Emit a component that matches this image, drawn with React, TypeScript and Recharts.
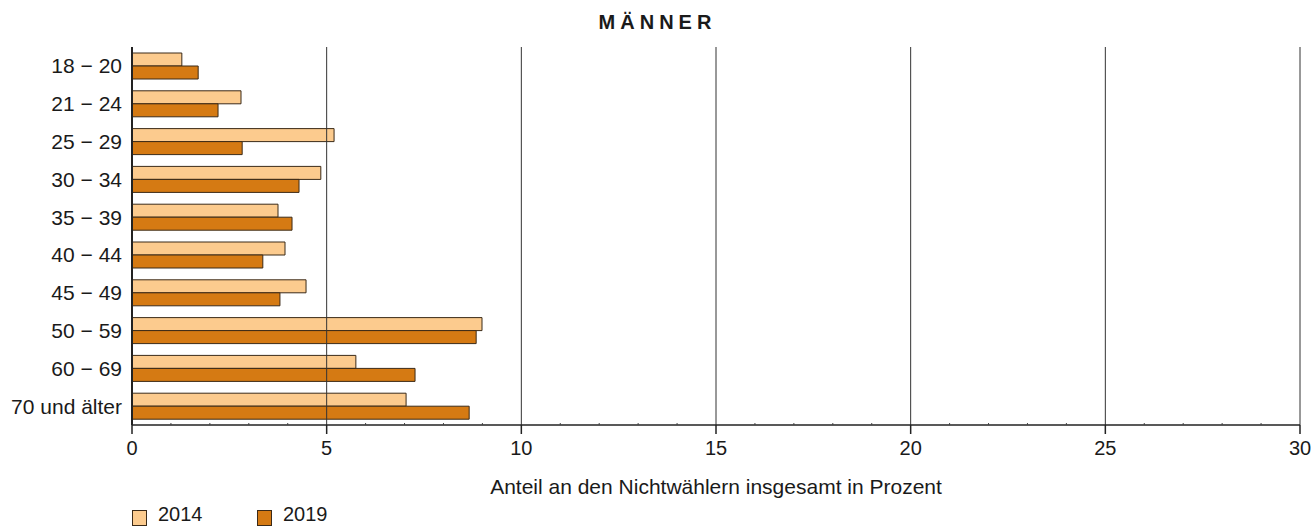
import { BarChart, Bar, XAxis, YAxis, ReferenceLine } from "recharts";

const ageGroups = [
  "18 − 20",
  "21 − 24",
  "25 − 29",
  "30 − 34",
  "35 − 39",
  "40 − 44",
  "45 − 49",
  "50 − 59",
  "60 − 69",
  "70 und älter",
];
const values2014 = [1.28, 2.8, 5.19, 4.85, 3.75, 3.93, 4.47, 8.99, 5.75, 7.04];
const values2019 = [1.7, 2.21, 2.83, 4.29, 4.11, 3.36, 3.8, 8.84, 7.27, 8.66];
const allTicks = Array.from({ length: 31 }, (_, i) => i);
const majorTicks = [5, 10, 15, 20, 25, 30];

const data = ageGroups.map((group, i) => ({
  group,
  y2014: values2014[i],
  y2019: values2019[i],
}));

const FONT = "'Liberation Sans', Arial, sans-serif";
const TEXT = "#1a1a1a";
const LIGHT = "#FCCB8E";
const DARK = "#D57A13";
const EDGE = "#3b2a18";

function XTick(props: any) {
  const { x, y, payload } = props;
  const v = payload.value as number;
  const major = v % 5 === 0;
  return (
    <g>
      {major ? (
        <line x1={x} x2={x} y1={y} y2={y + 9} stroke="#222" strokeWidth={1.5} />
      ) : (
        <line x1={x} x2={x} y1={y - 2} y2={y} stroke="#444" strokeWidth={1} />
      )}
      {major && (
        <text x={x} y={y + 30} textAnchor="middle" fontSize={20} fill={TEXT} fontFamily={FONT}>
          {v}
        </text>
      )}
    </g>
  );
}

function LegendBox({ x, color, label }: { x: number; color: string; label: string }) {
  return (
    <>
      <div
        style={{
          position: "absolute",
          left: x,
          top: 510,
          width: 13,
          height: 14,
          background: color,
          border: `1px solid ${EDGE}`,
        }}
      />
      <div
        style={{
          position: "absolute",
          left: x + 26,
          top: 504,
          fontSize: 20,
          lineHeight: "20px",
          fontFamily: FONT,
          color: TEXT,
        }}
      >
        {label}
      </div>
    </>
  );
}

export default function App() {
  return (
    <div
      style={{
        position: "absolute",
        left: 0,
        top: 0,
        width: 1315,
        height: 527,
        background: "#fff",
        fontFamily: FONT,
      }}
    >
      <div
        style={{
          position: "absolute",
          left: 0,
          top: 12,
          width: 1315,
          textAlign: "center",
          fontSize: 20,
          lineHeight: "21px",
          fontWeight: "bold",
          letterSpacing: 5,
          color: TEXT,
        }}
      >
        MÄNNER
      </div>
      <BarChart
        width={1315}
        height={527}
        data={data}
        layout="vertical"
        margin={{ top: 47, right: 15, bottom: 72, left: 8 }}
        barSize={13}
        barGap={0}
      >
        <XAxis
          type="number"
          domain={[0, 30]}
          ticks={allTicks}
          interval={0}
          tickSize={0}
          tickMargin={0}
          tickLine={false}
          tick={<XTick />}
          axisLine={{ stroke: "#222", strokeWidth: 1.5 }}
          height={30}
        />
        <XAxis
          xAxisId="top"
          orientation="top"
          type="number"
          domain={[0, 30]}
          tick={false}
          tickLine={false}
          height={0}
          axisLine={{ stroke: "#222", strokeWidth: 1.5 }}
        />
        <YAxis
          type="category"
          dataKey="group"
          width={124}
          tickSize={0}
          tickMargin={10}
          tickLine={false}
          interval={0}
          axisLine={{ stroke: "#222", strokeWidth: 2 }}
          tick={{ fontSize: 21, fill: TEXT, fontFamily: FONT }}
        />
        {majorTicks.map((t) => (
          <ReferenceLine key={t} x={t} stroke="#333" strokeWidth={1} />
        ))}
        <Bar dataKey="y2014" fill={LIGHT} stroke={EDGE} strokeWidth={1} isAnimationActive={false} />
        <Bar dataKey="y2019" fill={DARK} stroke={EDGE} strokeWidth={1} isAnimationActive={false} />
      </BarChart>
      <div
        style={{
          position: "absolute",
          left: 132,
          width: 1168,
          top: 476,
          textAlign: "center",
          fontSize: 21,
          lineHeight: "21px",
          color: TEXT,
        }}
      >
        Anteil an den Nichtwählern insgesamt in Prozent
      </div>
      <LegendBox x={132} color={LIGHT} label="2014" />
      <LegendBox x={257} color={DARK} label="2019" />
    </div>
  );
}
